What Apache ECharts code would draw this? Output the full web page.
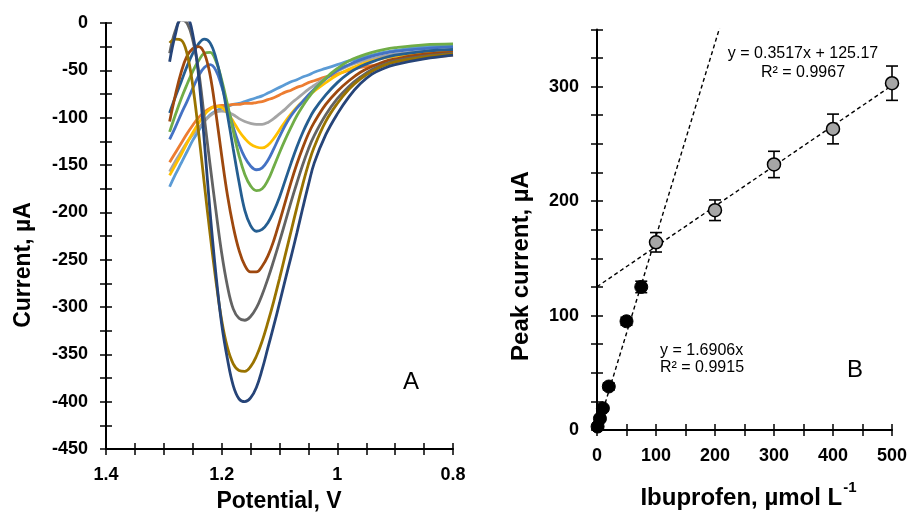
<!DOCTYPE html>
<html>
<head>
<meta charset="utf-8">
<script src="https://cdn.jsdelivr.net/npm/echarts@6.0.0/dist/echarts.min.js"></script>
<style>
html,body{margin:0;padding:0;background:#fff;}
#chart{width:911px;height:515px;}
</style>
</head>
<body>
<div id="chart"></div>
<script>
// ---------- Panel A: voltammograms (potential in V, current in µA) ----------
const POTENTIAL = [1.29,1.28,1.27,1.26,1.25,1.24,1.23,1.22,1.21,1.20,1.19,1.18,1.17,1.16,1.15,1.14,1.13,1.12,1.11,1.10,1.09,1.08,1.07,1.06,1.05,1.04,1.02,1.00,0.98,0.96,0.94,0.92,0.90,0.85,0.80];
const CURVE_1  = [-173,-160,-148,-136,-124,-114,-104,-97,-93,-90,-88,-86,-85,-83,-81,-79,-77,-74,-71,-68,-65,-62,-60,-57,-55,-52,-48,-44,-40,-37,-34,-31,-29,-25,-23];
const CURVE_2  = [-147,-137,-127,-117,-108,-100,-94,-90,-88,-87,-87,-86,-86,-85,-85,-84,-83,-81,-79,-76,-73,-71,-68,-66,-63,-61,-57,-54,-50,-47,-45,-43,-41,-37,-34];
const CURVE_3  = [-157,-146,-136,-126,-118,-111,-104,-98,-94,-93,-94,-97,-101,-104,-106,-107,-107,-105,-101,-96,-91,-85,-80,-75,-70,-66,-58,-51,-45,-41,-38,-35,-33,-30,-28];
const CURVE_4  = [-161,-150,-139,-127,-116,-106,-97,-91,-88,-89,-95,-104,-114,-122,-128,-131,-132,-129,-122,-113,-104,-96,-89,-83,-77,-72,-63,-55,-49,-44,-40,-37,-35,-31,-29];
const CURVE_5  = [-123,-110,-96,-83,-69,-56,-47,-44,-50,-67,-88,-110,-128,-142,-151,-155,-153,-145,-133,-120,-108,-98,-90,-83,-76,-70,-59,-50,-44,-39,-35,-32,-30,-27,-25];
const CURVE_6  = [-115,-97,-80,-65,-51,-40,-32,-31,-40,-60,-86,-114,-140,-160,-172,-177,-175,-166,-152,-137,-123,-110,-98,-88,-79,-71,-58,-48,-40,-35,-31,-28,-26,-23,-22];
const CURVE_7  = [-95,-78,-62,-46,-32,-22,-17,-21,-37,-63,-97,-133,-168,-198,-214,-220,-218,-211,-199,-184,-166,-148,-131,-116,-103,-92,-76,-63,-53,-46,-41,-37,-34,-30,-28];
const CURVE_8  = [-104,-76,-52,-35,-27,-25,-32,-55,-95,-140,-182,-215,-240,-256,-263,-263,-257,-246,-230,-210,-189,-168,-149,-132,-117,-105,-86,-72,-61,-52,-46,-41,-38,-33,-31];
const CURVE_9  = [-32,-8,3,0,-18,-50,-100,-150,-198,-243,-278,-302,-312,-314,-310,-301,-287,-270,-251,-231,-210,-189,-169,-150,-133,-119,-97,-80,-67,-57,-49,-44,-40,-35,-32];
const CURVE_10 = [-21,-17,-18,-32,-66,-115,-170,-223,-272,-314,-343,-360,-367,-368,-363,-352,-336,-316,-294,-270,-245,-220,-195,-171,-149,-131,-104,-85,-70,-59,-51,-45,-41,-36,-33];
const CURVE_11 = [-41,-12,4,4,-12,-55,-125,-200,-265,-318,-355,-383,-397,-400,-396,-385,-366,-343,-320,-296,-271,-247,-222,-196,-171,-148,-118,-96,-78,-64,-54,-48,-44,-38,-34];
const CURVES = [CURVE_1,CURVE_2,CURVE_3,CURVE_4,CURVE_5,CURVE_6,CURVE_7,CURVE_8,CURVE_9,CURVE_10,CURVE_11];

// ---------- Panel B: calibration (µmol/L, µA) ----------
const CONC_LOW  = [1, 5, 10, 20, 50, 75];
const PEAK_LOW  = [3, 10, 19, 38, 95, 125];
const ERR_LOW   = [1.5, 2, 2, 3, 3.5, 5];
const CONC_HIGH = [100, 200, 300, 400, 500];
const PEAK_HIGH = [164, 192, 232, 263, 303];
const ERR_HIGH  = [8.5, 9, 11.5, 13, 15];
const FIT_LOW_COEF  = [1.6906, 0];      // slope, intercept
const FIT_LOW_RANGE = [0, 210];
const FIT_HIGH_COEF = [0.3517, 125.17];
const FIT_HIGH_RANGE = [0, 500];

// ---------- styles ----------
const PALETTE = ['#5B9BD5','#ED7D31','#A5A5A5','#FFC000','#4472C4','#70AD47','#255E91','#9E480E','#636363','#997300','#264478'];
const FONT = '"Liberation Sans", Arial, sans-serif';

const chart = echarts.init(document.getElementById('chart'), null, {renderer:'canvas'});

function axisPair(gridIndex, min, max, interval, labelFn, position, margin) {
  const base = {
    gridIndex, type:'value', min, max, interval, position,
    splitLine:{show:false},
    axisLine:{show:true, onZero:false, lineStyle:{color:'#000', width:2}},
  };
  return [
    Object.assign({}, base, {
      axisTick:{show:true, inside:false, length:6, lineStyle:{color:'#000', width:1.5}},
      axisLabel:{show:true, margin, color:'#000', fontFamily:FONT, fontWeight:'bold', fontSize:18,
        formatter: labelFn, showMinLabel:true, showMaxLabel:true, hideOverlap:false}
    }),
    Object.assign({}, base, {
      axisLine:{show:false, onZero:false},
      axisTick:{show:true, inside:true, length:6, lineStyle:{color:'#000', width:1.5}},
      axisLabel:{show:false}
    })
  ];
}

const xA = axisPair(0, 0.8, 1.4, 0.05, v => { const r = Math.round(v*100); return r % 20 === 0 ? String(r/100) : ''; }, 'bottom', 17);
xA.forEach(a => a.inverse = true);
const yA = axisPair(0, -450, 0, 25, v => (Math.round(v) % 50 === 0 ? String(Math.round(v)) : ''), 'left', 18);
const xB = axisPair(1, 0, 500, 50, v => (Math.round(v) % 100 === 0 ? String(Math.round(v)) : ''), 'bottom', 17);
const yB = axisPair(1, 0, 350, 25, v => (Math.round(v) % 100 === 0 ? String(Math.round(v)) : ''), 'left', 18);

const series = [];
CURVES.forEach((arr, k) => {
  series.push({
    type:'line', xAxisIndex:0, yAxisIndex:0, smooth:0.4, showSymbol:false, symbol:'none',
    clip:true, z:2+k*0.01,
    lineStyle:{color:PALETTE[k], width:2.8},
    data: POTENTIAL.map((v, i) => [v, arr[i]])
  });
});

function fitLine(coef, range) {
  return range.map(x => [x, coef[0]*x + coef[1]]);
}
[ [FIT_LOW_COEF, FIT_LOW_RANGE], [FIT_HIGH_COEF, FIT_HIGH_RANGE] ].forEach(([c, r]) => {
  series.push({
    type:'line', xAxisIndex:2, yAxisIndex:2, symbol:'none', clip:true, z:2,
    lineStyle:{color:'#000', width:1.4, type:[4,3]},
    data: fitLine(c, r)
  });
});

function errData(xs, ys, es) { return xs.map((x, i) => [x, ys[i], es[i]]); }
function errRender(params, api) {
  const x = api.value(0), y = api.value(1), e = api.value(2);
  const t = api.coord([x, y + e]), b = api.coord([x, y - e]);
  const h = 6;
  const st = {stroke:'#000', lineWidth:1.6};
  return {type:'group', children:[
    {type:'line', shape:{x1:t[0], y1:t[1], x2:b[0], y2:b[1]}, style:st},
    {type:'line', shape:{x1:t[0]-h, y1:t[1], x2:t[0]+h, y2:t[1]}, style:st},
    {type:'line', shape:{x1:b[0]-h, y1:b[1], x2:b[0]+h, y2:b[1]}, style:st}
  ]};
}
series.push({type:'custom', xAxisIndex:2, yAxisIndex:2, z:3, renderItem:errRender, encode:{x:0, y:1}, data:errData(CONC_LOW, PEAK_LOW, ERR_LOW)});
series.push({type:'custom', xAxisIndex:2, yAxisIndex:2, z:3, renderItem:errRender, encode:{x:0, y:1}, data:errData(CONC_HIGH, PEAK_HIGH, ERR_HIGH)});
series.push({type:'scatter', xAxisIndex:2, yAxisIndex:2, z:4, symbol:'circle', symbolSize:13,
  itemStyle:{color:'#000', borderColor:'#000', borderWidth:1, opacity:1},
  data: CONC_LOW.map((x, i) => [x, PEAK_LOW[i]])});
series.push({type:'scatter', xAxisIndex:2, yAxisIndex:2, z:4, symbol:'circle', symbolSize:13,
  itemStyle:{color:'#A6A6A6', borderColor:'#000', borderWidth:1.5, opacity:1},
  data: CONC_HIGH.map((x, i) => [x, PEAK_HIGH[i]])});

// text measurement for superscript placement
const mctx = document.createElement('canvas').getContext('2d');
function textW(str, font) { mctx.font = font; return mctx.measureText(str).width; }
const titleFont = 'bold 24px ' + FONT;
const supFont = 'bold 15px ' + FONT;
const ibMain = 'Ibuprofen, \u00B5mol L';
const ibW = textW(ibMain, titleFont), supW = textW('-1', supFont);
const ibLeft = 748 - (ibW + supW) / 2;

function txt(text, x, y, font, align, rot) {
  return {type:'text', x, y, rotation: rot || 0, z:10, silent:true,
    style:{text, font, fill:'#000', textAlign:align, textVerticalAlign:'middle', align:align, verticalAlign:'middle'}};
}

const graphics = [
  txt('Current, \u00B5A', 24, 265, 'bold 23px ' + FONT, 'center', Math.PI/2),
  txt('Potential, V', 279, 502, 'bold 23px ' + FONT, 'center'),
  txt('Peak current, \u00B5A', 521, 266, 'bold 24px ' + FONT, 'center', Math.PI/2),
  txt(ibMain, ibLeft, 498, titleFont, 'left'),
  txt('-1', ibLeft + ibW + 1, 488, supFont, 'left'),
  txt('A', 411, 382, '24px ' + FONT, 'center'),
  txt('B', 855, 370, '24px ' + FONT, 'center'),
  txt('y = 0.3517x + 125.17', 803, 54, '16px ' + FONT, 'center'),
  txt('R\u00B2 = 0.9967', 803, 73, '16px ' + FONT, 'center'),
  txt('y = 1.6906x', 660, 351, '16px ' + FONT, 'left'),
  txt('R\u00B2 = 0.9915', 660, 368, '16px ' + FONT, 'left')
];

chart.setOption({
  animation:false,
  backgroundColor:'#fff',
  grid:[
    {left:106, top:23, width:347, height:426, containLabel:false},
    {left:597, top:29.4, width:295, height:400.6, containLabel:false}
  ],
  xAxis:[xA[0], xA[1], xB[0], xB[1]],
  yAxis:[yA[0], yA[1], yB[0], yB[1]],
  series,
  graphic: graphics
});
</script>
</body>
</html>
